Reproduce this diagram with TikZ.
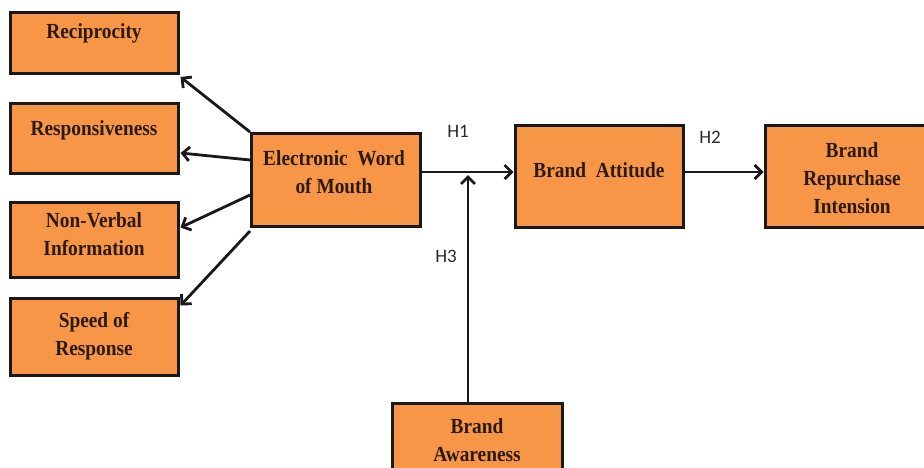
\documentclass[tikz,border=0pt]{standalone}
\usepackage{fontspec}
\usetikzlibrary{arrows.meta}
\newfontfamily\boxfont{Liberation Serif}[FakeStretch=0.9]
\newfontfamily\hfont{Carlito}
\definecolor{boxorange}{HTML}{F79646}
\definecolor{boxtext}{HTML}{2B1A12}
\definecolor{hgray}{HTML}{2A2A2A}
\tikzset{
  box/.style={draw=black!90, line width=3pt, fill=boxorange, rectangle, inner sep=0pt},
  boxlabel/.style={text=boxtext, align=center, inner sep=0pt,
    font=\boxfont\bfseries\fontsize{21.5}{28}\selectfont},
  hlabel/.style={text=hgray, inner sep=0pt, font=\hfont\fontsize{19}{22}\selectfont},
  conn/.style={line width=2.8pt, draw=black!90, -{Straight Barb[length=7pt,width=14pt,line width=2.8pt]}}
}
\begin{document}
\begin{tikzpicture}[x=1pt,y=-1pt]
\useasboundingbox (0,0) rectangle (924,467);
\clip (0,0) rectangle (924,467);
\fill[white] (0,0) rectangle (924,467);
% boxes
\node[box, minimum width=168pt, minimum height=61pt] (rec) at (94,43) {};
\node[box, minimum width=168pt, minimum height=70pt] (resp) at (94,138) {};
\node[box, minimum width=168pt, minimum height=75pt] (nv) at (94,239.5) {};
\node[box, minimum width=168pt, minimum height=77pt] (sp) at (94,336.5) {};
\node[box, minimum width=169pt, minimum height=93pt] (ew) at (336,180) {};
\node[box, minimum width=168pt, minimum height=102pt] (ba) at (599,176) {};
\node[box, minimum width=172pt, minimum height=102pt] (brp) at (851,176) {};
\node[box, minimum width=170pt, minimum height=80pt] (baw) at (477,443) {};
% texts
\node[boxlabel] (trec) at (94,33) {Reciprocity};
\node[boxlabel] (tresp) at (94,130) {Responsiveness};
\node[boxlabel] (tnv) at (94,234) {Non-Verbal\\Information};
\node[boxlabel] (tsp) at (94,336) {Speed of\\Response};
\node[boxlabel] (tew) at (334,172) {Electronic\ \ Word\\of Mouth};
\node[boxlabel] (tba) at (599,170) {Brand\ \ Attitude};
\node[boxlabel] (tbrp) at (852,178) {Brand\\Repurchase\\Intension};
\node[boxlabel] (tbaw) at (477,440) {Brand\\Awareness};
% hypothesis labels
\node[hlabel] (h1) at (458,131) {H1};
\node[hlabel] (h2) at (710,137) {H2};
\node[hlabel] (h3) at (446,256) {H3};
% connectors
\coordinate (join) at (468,172);
\draw[conn] (ew.north west) -- ([xshift=1pt,yshift=-2pt]rec.south east);
\draw[conn] ([yshift=20pt]ew.west) -- ([xshift=1pt,yshift=-15pt]resp.east);
\draw[conn] ([yshift=-15pt]ew.west) -- ([xshift=1pt,yshift=12pt]nv.east);
\draw[conn] ([yshift=-3pt]ew.south west) -- ([xshift=1pt,yshift=-9pt]sp.north east);
\draw[conn] (ew.east |- join) -- (ba.west |- join);
\draw[conn] (baw.north -| join) -- ([yshift=-3pt]join);
\draw[conn] (ba.east |- join) -- (brp.west |- join);
\end{tikzpicture}
\end{document}
